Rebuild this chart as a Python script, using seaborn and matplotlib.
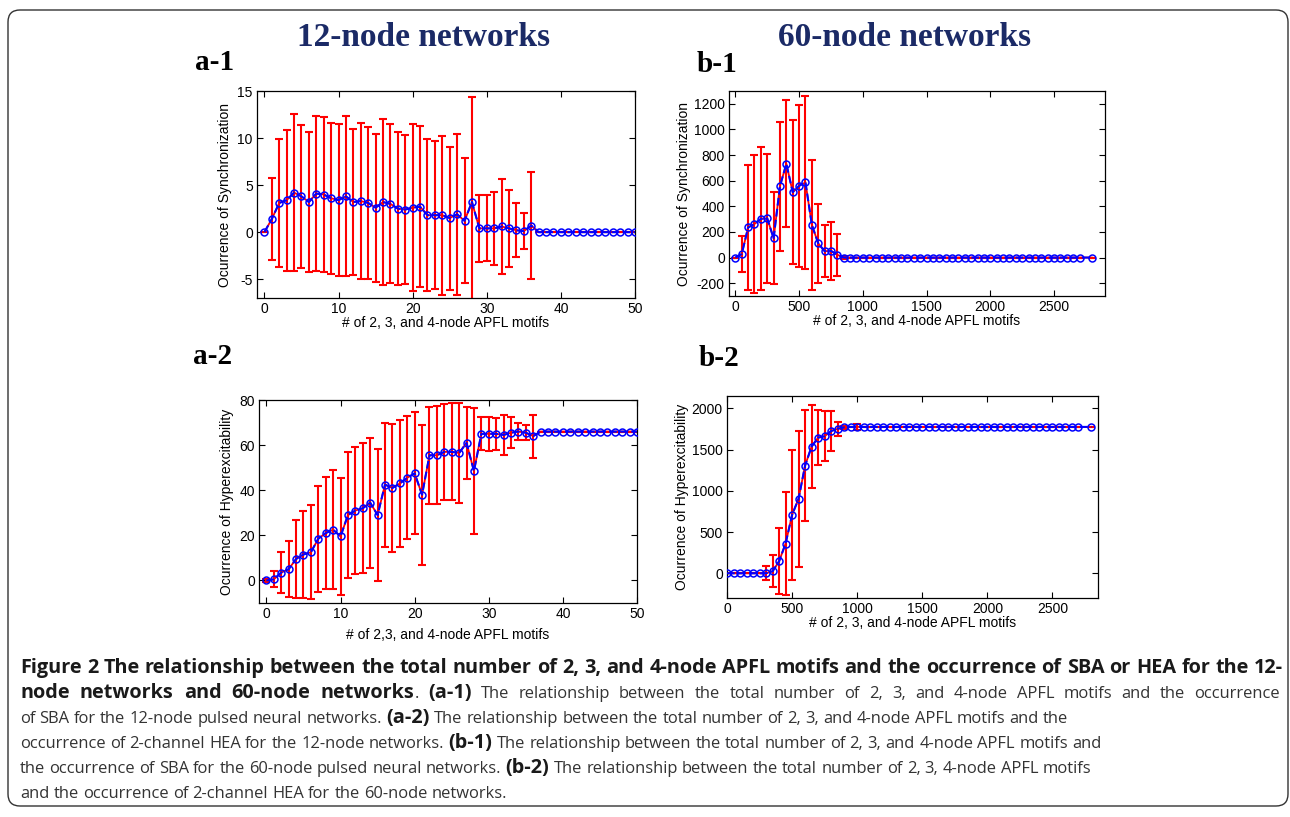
import re
import numpy as np
import pandas as pd
import matplotlib
matplotlib.use("Agg")
import matplotlib.pyplot as plt
import seaborn as sns
from matplotlib.patches import FancyBboxPatch
from matplotlib.transforms import IdentityTransform

# ---------------- data ----------------
a1_x = list(range(0, 51))
a1_mean = [0, 1.4, 3.1, 3.4, 4.2, 3.8, 3.2, 4.1, 4.0, 3.6, 3.4, 3.8, 3.2, 3.3, 3.1, 2.6,
           3.2, 3.0, 2.5, 2.4, 2.6, 2.7, 1.8, 1.8, 1.8, 1.5, 1.9, 1.2, 3.2, 0.4, 0.4, 0.4,
           0.6, 0.4, 0.2, 0.1, 0.7,
           0, 0, 0, 0, 0, 0, 0, 0, 0, 0, 0, 0, 0, 0]
a1_sd = [0, 4.4, 6.8, 7.5, 8.35, 7.6, 7.4, 8.2, 8.25, 8.0, 8.1, 8.5, 7.8, 8.25, 8.05, 7.85,
         8.8, 8.45, 8.15, 7.95, 8.85, 8.55, 8.1, 7.85, 8.45, 7.6, 8.55, 6.65, 11.2, 3.6, 3.5,
         3.9, 5.05, 4.1, 2.85, 1.9, 5.7,
         0, 0, 0, 0, 0, 0, 0, 0, 0, 0, 0, 0, 0, 0]

a2_x = list(range(0, 51))
a2_mean = [0, 0.5, 3.5, 5, 9.5, 11.5, 12.5, 18.5, 21, 22.5, 19.5, 29, 31, 32, 34.5, 29,
           42.5, 41, 43, 45.5, 47.5, 38, 55.5, 55.5, 57, 57, 56.5, 61, 48.5, 65, 65, 65,
           64.5, 65.5, 66, 65.5, 64,
           66, 66, 66, 66, 66, 66, 66, 66, 66, 66, 66, 66, 66, 66]
a2_sd = [0.5, 3.5, 9, 12.5, 17.3, 19.5, 20.8, 23.5, 25, 26.3, 25.8, 27.8, 28, 28.8, 28.8,
         29.3, 27.5, 28.3, 28.3, 27.3, 27, 31, 21.5, 21.8, 21.3, 21.5, 22, 16, 28, 7.3, 7.5,
         7, 9, 7, 3.8, 3.3, 9.5,
         0, 0, 0, 0, 0, 0, 0, 0, 0, 0, 0, 0, 0, 0]

b_x = [0, 50, 100, 150, 200, 250, 300, 350, 400, 450, 500, 550, 600, 650, 700, 750, 800,
       850, 900, 950, 1000, 1050, 1100, 1150, 1200, 1250, 1300, 1350, 1400, 1450, 1500,
       1550, 1600, 1650, 1700, 1750, 1800, 1850, 1900, 1950, 2000, 2050, 2100, 2150, 2200,
       2250, 2300, 2350, 2400, 2450, 2500, 2550, 2600, 2650, 2700, 2800]
b1_mean = [0, 28, 235, 262, 302, 306, 150, 558, 732, 510, 560, 586, 255, 111, 50, 52, 22,
           0, 0, 0, 0, 0, 0, 0, 0, 0, 0, 0, 0, 0, 0, 0, 0, 0, 0, 0, 0, 0, 0, 0, 0, 0, 0,
           0, 0, 0, 0, 0, 0, 0, 0, 0, 0, 0, 0, 0]
b1_sd = [0, 138, 487, 538, 559, 503, 359, 503, 497, 563, 630, 675, 509, 309, 204, 226, 164,
         15, 0, 0, 0, 0, 0, 0, 0, 0, 0, 0, 0, 0, 0, 0, 0, 0, 0, 0, 0, 0, 0, 0, 0, 0, 0,
         0, 0, 0, 0, 0, 0, 0, 0, 0, 0, 0, 0, 0]
b2_mean = [0, 0, 0, 0, 0, 0, 0, 24, 145, 360, 708, 905, 1307, 1537, 1645, 1662, 1725,
           1752, 1770, 1775, 1775, 1775, 1775, 1775, 1775, 1775, 1775, 1775, 1775, 1775,
           1775, 1775, 1775, 1775, 1775, 1775, 1775, 1775, 1775, 1775, 1775, 1775, 1775,
           1775, 1775, 1775, 1775, 1775, 1775, 1775, 1775, 1775, 1775, 1775, 1775, 1775]
b2_sd = [0, 0, 0, 0, 0, 0, 87, 195, 400, 627, 786, 824, 675, 504, 337, 302, 246, 85, 20,
         0, 40, 0, 0, 0, 0, 0, 0, 0, 0, 0, 0, 0, 0, 0, 0, 0, 0, 0, 0, 0, 0, 0, 0, 0, 0,
         0, 0, 0, 0, 0, 0, 0, 0, 0, 0, 0]

title_left = "12-node networks"
title_right = "60-node networks"
panel_labels = ["a-1", "b-1", "a-2", "b-2"]
xlab_a1 = "# of 2, 3, and 4-node APFL motifs"
xlab_a2 = "# of 2,3, and 4-node APFL motifs"
xlab_b = "# of 2, 3, and 4-node APFL motifs"
ylab_sync = "Ocurrence of Synchronization"
ylab_hyper = "Ocurrence of Hyperexcitability"

caption_lines = [
    [("Figure 2 The relationship between the total number of 2, 3, and 4-node APFL motifs and the occurrence of SBA or HEA for the 12-", True)],
    [("node networks and 60-node networks", True), (". ", False), ("(a-1)", True),
     (" The relationship between the total number of 2, 3, and 4-node APFL motifs and the occurrence", False)],
    [("of SBA for the 12-node pulsed neural networks. ", False), ("(a-2)", True),
     (" The relationship between the total number of 2, 3, and 4-node APFL motifs and the", False)],
    [("occurrence of 2-channel HEA for the 12-node networks. ", False), ("(b-1)", True),
     (" The relationship between the total number of 2, 3, and 4-node APFL motifs and", False)],
    [("the occurrence of SBA for the 60-node pulsed neural networks. ", False), ("(b-2)", True),
     (" The relationship between the total number of 2, 3, 4-node APFL motifs", False)],
    [("and the occurrence of 2-channel HEA for the 60-node networks.", False)],
]
caption_justify = [1283, 1280, None, None, None, None]

# ---------------- style ----------------
sns.set_style("ticks")
plt.rcParams.update({
    "font.family": ["Liberation Sans", "DejaVu Sans"],
    "axes.unicode_minus": False,
    "xtick.direction": "in", "ytick.direction": "in",
    "xtick.top": True, "ytick.right": True,
    "xtick.major.size": 4, "ytick.major.size": 4,
    "xtick.major.width": 0.8, "ytick.major.width": 0.8,
    "axes.edgecolor": "black", "axes.linewidth": 0.9,
    "xtick.color": "black", "ytick.color": "black",
    "xtick.labelsize": 10, "ytick.labelsize": 10,
    "axes.labelsize": 10, "axes.labelcolor": "black",
    "xtick.major.pad": 3, "ytick.major.pad": 3,
})

W, H = 1290, 817
fig = plt.figure(figsize=(W / 100, H / 100), dpi=100)
fig.patch.set_facecolor("white")


def axes_px(l, t, r, b):
    return fig.add_axes([l / W, 1 - b / H, (r - l) / W, (b - t) / H])


def panel(ax, x, m, s, xlim, ylim, xticks, yticks, xlabel, ylabel, xpad, ypad):
    ax.errorbar(x, m, yerr=s, color="red", ecolor="red", lw=1.3, elinewidth=1.5,
                capsize=2.6, capthick=1.5, zorder=2)
    df = pd.DataFrame({"x": x, "y": m})
    sns.lineplot(data=df, x="x", y="y", ax=ax, color="blue", linestyle="--", lw=1.5,
                 marker="o", markersize=5, markerfacecolor="none",
                 markeredgecolor="blue", markeredgewidth=1.1, legend=False, zorder=3)
    ax.set_xlim(*xlim)
    ax.set_ylim(*ylim)
    ax.set_xticks(xticks)
    ax.set_yticks(yticks)
    ax.set_xlabel(xlabel, labelpad=xpad)
    ax.set_ylabel(ylabel, labelpad=ypad)
    for sp in ax.spines.values():
        sp.set_visible(True)
        sp.set_color("black")


ax1 = axes_px(257, 91, 635, 298)
panel(ax1, a1_x, a1_mean, a1_sd, (-1, 50), (-7, 15), [0, 10, 20, 30, 40, 50],
      [-5, 0, 5, 10, 15], xlab_a1, ylab_sync, 0, 4)

ax2 = axes_px(729, 91, 1105, 296)
panel(ax2, b_x, b1_mean, b1_sd, (-50, 2900), (-300, 1300), [0, 500, 1000, 1500, 2000, 2500],
      [-200, 0, 200, 400, 600, 800, 1000, 1200], xlab_b, ylab_sync, 0, 2)

ax3 = axes_px(259, 400, 637, 603)
panel(ax3, a2_x, a2_mean, a2_sd, (-1, 50), (-10, 80), [0, 10, 20, 30, 40, 50],
      [0, 20, 40, 60, 80], xlab_a2, ylab_hyper, 5, 4)

ax4 = axes_px(727, 396, 1098, 598)
panel(ax4, b_x, b2_mean, b2_sd, (0, 2850), (-300, 2150), [0, 500, 1000, 1500, 2000, 2500],
      [0, 500, 1000, 1500, 2000], xlab_b, ylab_hyper, 0, 2)

# ---------------- titles / labels ----------------
serif = ["Liberation Serif", "DejaVu Serif"]
navy = "#1b2a66"
fig.text(424 / W, 1 - 38 / H, title_left, ha="center", va="center", fontsize=24,
         fontweight="bold", color=navy, family=serif)
fig.text(905 / W, 1 - 38 / H, title_right, ha="center", va="center", fontsize=24,
         fontweight="bold", color=navy, family=serif)
for lab, (px, py) in zip(panel_labels, [(195, 63), (697, 65), (193, 356), (699, 359)]):
    fig.text(px / W, 1 - py / H, lab, ha="left", va="center", fontsize=21,
             fontweight="bold", color="black", family=serif)

# ---------------- frame ----------------
frame = FancyBboxPatch((8, 817 - 806), 1280, 806 - 10,
                       boxstyle="round,pad=0,rounding_size=12",
                       transform=IdentityTransform(), facecolor="none",
                       edgecolor="#333333", lw=1.0, zorder=-5)
fig.add_artist(frame)

# ---------------- caption ----------------
cap_family = ["Open Sans", "DejaVu Sans"]
renderer = fig.canvas.get_renderer()


def text_w(txt, bold, size):
    t = fig.text(0, 0, txt, fontsize=size, fontweight="bold" if bold else "normal",
                 family=cap_family)
    w = t.get_window_extent(renderer).width
    t.remove()
    return w


def space_w(bold, size):
    return text_w("a a", bold, size) - text_w("aa", bold, size)


def tokens(line):
    out = []
    for txt, bold in line:
        for tok in re.findall(r"\S+|\s+", txt):
            out.append((tok, bold))
    return out


def natural_parts(line, size_map):
    """return (width of bold parts, width of regular parts, number of gaps)"""
    wb, wr, n = 0.0, 0.0, 0
    for tok, bold in tokens(line):
        if tok.isspace():
            w = len(tok) * space_w(bold, size_map[bold])
            n += 1
        else:
            w = text_w(tok, bold, size_map[bold])
        if bold:
            wb += w
        else:
            wr += w
    return wb, wr, n


bold_size = 10 * 1263 / text_w(caption_lines[0][0][0], True, 10)
# regular size: the 4th caption line ends near x = 1105 in the figure
wb4, wr4, _ = natural_parts(caption_lines[3], {True: bold_size, False: 10})
reg_size = 10 * (1105 - 20 - wb4) / wr4
sizes = {True: bold_size, False: reg_size}
sp_w = {True: space_w(True, bold_size), False: space_w(False, reg_size)}

y0 = 668
for i, line in enumerate(caption_lines):
    toks = tokens(line)
    wb, wr, n_sp = natural_parts(line, sizes)
    natural = wb + wr
    target = caption_justify[i]
    extra = 0.0
    if target is not None and n_sp:
        extra = max(0.0, (target - 20 - natural) / n_sp)
    x = 20
    y = y0 + i * 25
    for tok, bold in toks:
        if tok.isspace():
            x += len(tok) * sp_w[bold] + extra
            continue
        t = fig.text(x / W, 1 - (y + 5) / H, tok, fontsize=sizes[bold],
                     fontweight="bold" if bold else "normal",
                     color="#1a1a1a" if bold else "#333333",
                     family=cap_family, ha="left", va="baseline")
        x += t.get_window_extent(renderer).width

fig.savefig("out.png", dpi=100)
